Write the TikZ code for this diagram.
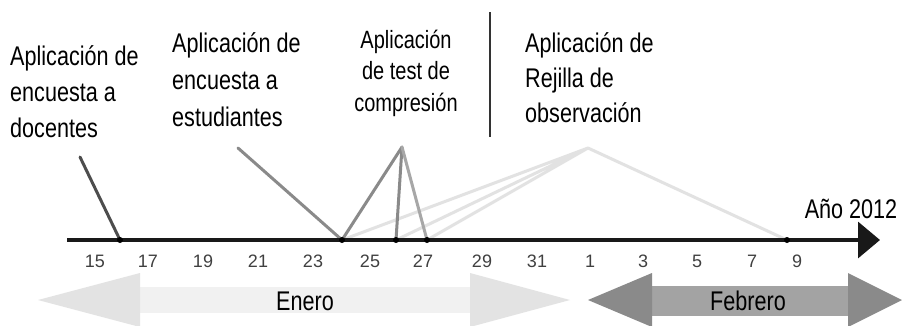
\documentclass[tikz,border=0pt]{standalone}
\usepackage{fontspec}
\setmainfont{Liberation Sans}
\newfontfamily\lblfont{Liberation Sans}[FakeStretch=0.8]
\usetikzlibrary{arrows.meta}
\definecolor{linkdark}{HTML}{4D4D4D}
\definecolor{linkmid}{HTML}{8A8A8A}
\definecolor{linklight}{HTML}{E2E2E2}
\definecolor{enehead}{HTML}{E3E3E3}
\definecolor{enebody}{HTML}{F1F1F1}
\definecolor{febhead}{HTML}{8A8A8A}
\definecolor{febbody}{HTML}{A3A3A3}

\begin{document}
\begin{tikzpicture}[x=1pt,y=-1pt,
  lbl/.style={inner sep=0pt,align=left,font=\lblfont\fontsize{27}{36}\selectfont},
  tick/.style={inner sep=0pt,anchor=base,text=black!75,font=\fontsize{18}{18}\selectfont},
  link/.style={line width=3pt,line cap=round}]
  \useasboundingbox[fill=white] (0,0) rectangle (902,325);
  % meses
  \fill[enebody] (140,287) rectangle (470,313);
  \fill[enehead] (38,300) -- (140,273) -- (140,327) -- cycle;
  \fill[enehead] (570,300) -- (470,273) -- (470,327) -- cycle;
  \fill[febbody] (652,286) rectangle (848,316);
  \fill[febhead] (588,300) -- (652,273) -- (652,327) -- cycle;
  \fill[febhead] (902,300) -- (848,273) -- (848,327) -- cycle;
  \node[lbl,anchor=base] (enero) at (305,310) {Enero};
  \node[lbl,anchor=base] (febrero) at (748,310) {Febrero};

  % actividades (anclados en la ultima linea)
  \node[lbl,anchor=base west] (docentes) at (10,137) {Aplicación de\\encuesta a\\docentes};
  \node[lbl,anchor=base west,font=\lblfont\fontsize{27}{37}\selectfont] (estudiantes) at (172,126) {Aplicación de\\encuesta a\\estudiantes};
  \node[lbl,anchor=base,align=center,font=\lblfont\fontsize{25}{31.5}\selectfont] (test) at (406,111) {Aplicación\\de test de\\compresión};
  \node[lbl,anchor=base west,font=\lblfont\fontsize{27}{35}\selectfont] (rejilla) at (525,122) {Aplicación de\\Rejilla de\\observación};
  \draw[black!80,line width=1.2pt] (490,12) -- (490,137);
  \node[lbl,anchor=base] (anio) at (851,218) {Año 2012};

  \coordinate (p1) at (80,157);
  \coordinate (p2) at (238,148);
  \coordinate (p3) at (402,147);
  \coordinate (p4) at (588,148);
  \coordinate (d16) at (120,240);
  \coordinate (d24) at (342,240);
  \coordinate (d26) at (396,240);
  \coordinate (d27) at (427,240);
  \coordinate (f8) at (787,240);
  \coordinate (a0) at (67,240);
  \coordinate (a1) at (880,240);

  \draw[link,linklight] (p4) -- (d24) (p4) -- (d26) (p4) -- (d27) (p4) -- (f8);
  \draw[link,linkmid] (p2) -- (d24);
  \draw[link,linkmid] (p3) -- (d24) (p3) -- (d26);
  \draw[link,linkmid!75] (p3) -- (d27);
  \draw[link,linkdark] (p1) -- (d16);

  % eje de tiempo
  \draw[black!90,line width=3.5pt,-{Triangle[length=22pt,width=36pt]}] (a0) -- (a1);
  \foreach \p in {d16,d24,d26,d27,f8}
    \fill (\p) circle (3pt);
  \foreach \x/\d in {95/15,148/17,203/19,258/21,313/23,370/25,423/27,482/29,537/31,590/1,643/3,697/5,752/7,797/9}
    \node[tick] (t\d) at (\x,267) {\d};
\end{tikzpicture}
\end{document}
